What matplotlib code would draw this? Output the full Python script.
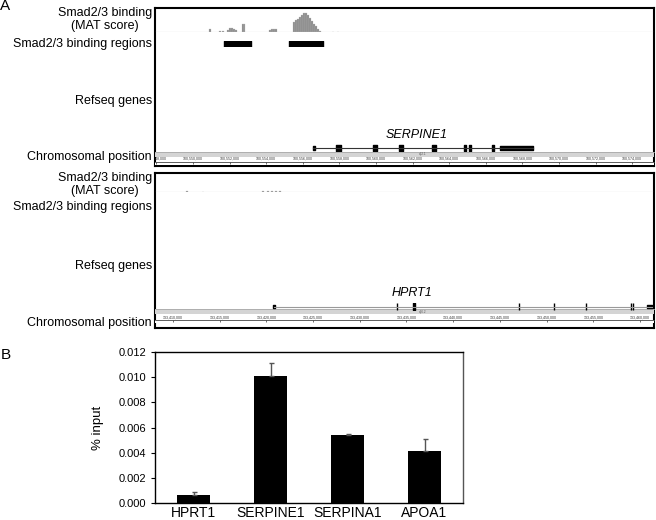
import matplotlib.pyplot as plt
from matplotlib.ticker import FuncFormatter

plt.rcParams['font.family'] = ['Liberation Sans', 'DejaVu Sans']

W, H = 656, 520

# ---- panel A, SERPINE1 locus ----
serpine_xlim = (100547923, 100575191)
serpine_mat_pos = [100550929, 100551475, 100551639, 100551912, 100552022, 100552131,
                   100552240, 100552350, 100552732, 100552820, 100554207, 100554317,
                   100554426, 100554535, 100555519, 100555628, 100555737, 100555846,
                   100555956, 100556065, 100556174, 100556284, 100556393, 100556502,
                   100556611, 100556721, 100556830, 100556939, 100557650, 100557923]
serpine_mat_score = [0.9, 0.3, 0.4, 0.6, 1.2, 1.1, 0.9, 0.6, 2.5, 2.5, 0.7, 1.0,
                     1.0, 0.8, 3.1, 3.6, 4.2, 4.7, 5.3, 5.9, 6.0, 5.2, 4.4, 3.5,
                     2.6, 1.8, 0.9, 0.3, 0.1, 0.15]
serpine_regions = [(100551694, 100552295), (100552350, 100553169), (100555245, 100557103)]
serpine_span = (100556560, 100568579)
serpine_cds = [(100557800, 100558070), (100559820, 100560070), (100561260, 100561480),
               (100563060, 100563280), (100564810, 100564920), (100565080, 100565190),
               (100566350, 100566440)]
serpine_utr = [(100556560, 100556670), (100566776, 100568579)]
serpine_ticks = list(range(100548000, 100576000, 2000))

# ---- panel A, HPRT1 locus ----
hprt_xlim = (133408073, 133461499)
hprt_mat_pos = [133411499, 133413212, 133419636, 133420172, 133420600, 133421028, 133421456]
hprt_mat_score = [0.25, 0.15, 0.2, 0.3, 0.4, 0.3, 0.2]
hprt_span = (133420814, 133461285)
hprt_cds = [(133433950, 133434020), (133435720, 133435880), (133447010, 133447080),
            (133450760, 133450830), (133454180, 133454250), (133459000, 133459070),
            (133459220, 133459290)]
hprt_utr = [(133420760, 133420870), (133460750, 133461285)]
hprt_ticks = list(range(133410000, 133465000, 5000))

# ---- panel B ----
genes = ['HPRT1', 'SERPINE1', 'SERPINA1', 'APOA1']
pct_input = [0.0006, 0.0101, 0.0054, 0.0041]
pct_err = [0.0003, 0.0010, 0.0001, 0.0010]

fig = plt.figure(figsize=(W / 100, H / 100), dpi=100)


def px_axes(x0, y0, x1, y1):
    return fig.add_axes([x0 / W, 1 - y1 / H, (x1 - x0) / W, (y1 - y0) / H])


def ftext(x, y, s, **kw):
    fig.text(x / W, 1 - y / H, s, **kw)


def draw_locus(top, bottom, xlim, mat_pos, mat_score, mat_w, mat_ymax, y_mat,
               regions, span, cds, utr, line_color, gene_name, gene_xy,
               y_gene, y_band, band_name, y_ruler, ticks):
    frame = px_axes(155, top, 654, bottom)
    frame.set_xticks([])
    frame.set_yticks([])
    for s in frame.spines.values():
        s.set_linewidth(1.5)

    # MAT score track
    ax = px_axes(155, top, 654, y_mat)
    ax.bar(mat_pos, mat_score, width=mat_w, color='#8a8a8a', align='center',
           edgecolor='#bdbdbd', linewidth=0.2)
    ax.axhline(0, color='#a8a8a8', lw=0.8)
    ax.set_xlim(xlim)
    ax.set_ylim(0, mat_ymax)
    ax.axis('off')

    # binding regions
    ax = px_axes(155, y_mat + 9, 654, y_mat + 15)
    ax.broken_barh([(a, b - a) for a, b in regions], (0, 1), color='black')
    ax.set_xlim(xlim)
    ax.set_ylim(0, 1)
    ax.axis('off')

    # chromosome band
    ax = px_axes(155, y_band, 654, y_band + 5)
    ax.set_facecolor('#d4d4d4')
    ax.set_xlim(xlim)
    ax.set_xticks([])
    ax.set_yticks([])
    for s in ax.spines.values():
        s.set_visible(False)
    ax.spines['top'].set_visible(True)
    ax.spines['top'].set_color('#a8a8a8')
    ax.spines['top'].set_linewidth(0.6)
    ax.text(0.536, 0.5, band_name, transform=ax.transAxes, fontsize=2.2,
            color='#555555', ha='center', va='center')

    # gene model
    ax = px_axes(155, y_gene - 4, 654, y_gene + 4)
    ax.plot(span, [0, 0], color=line_color, lw=0.8)
    ax.broken_barh([(a, b - a) for a, b in cds], (-0.8, 1.6), color='black')
    ax.broken_barh([(a, b - a) for a, b in utr], (-0.45, 0.9), color='black')
    ax.set_xlim(xlim)
    ax.set_ylim(-1, 1)
    ax.axis('off')
    ftext(gene_xy[0], gene_xy[1], gene_name, fontsize=9, style='italic',
          ha='center', va='center')

    # ruler
    ax = px_axes(155, y_ruler, 654, y_ruler + 3)
    ax.set_xlim(xlim)
    ax.set_yticks([])
    for s in ax.spines.values():
        s.set_visible(False)
    ax.spines['top'].set_visible(True)
    ax.spines['top'].set_linewidth(0.6)
    ax.spines['top'].set_linestyle((0, (2, 1)))
    ax.spines['top'].set_color('#444444')
    ax.xaxis.tick_top()
    ax.set_xticks(ticks)
    ax.xaxis.set_major_formatter(FuncFormatter(lambda v, p: f'{int(v):,}'))
    ax.tick_params(axis='x', direction='in', length=1.5, width=0.5, pad=0.6,
                   labelsize=2.6, colors='#333333')
    for t in ax.xaxis.get_major_ticks():
        t.label2.set_clip_box(frame.bbox)
        t.label2.set_clip_on(True)


# top locus
draw_locus(8, 166, serpine_xlim, serpine_mat_pos, serpine_mat_score, 80, 7.5, 32,
           serpine_regions, serpine_span, serpine_cds, serpine_utr, '#333333',
           'SERPINE1', (417, 135), 148, 152, 'q22.1', 161.5, serpine_ticks)
# bottom locus
draw_locus(173, 328, hprt_xlim, hprt_mat_pos, hprt_mat_score, 180, 19 / 3.2, 192,
           [], hprt_span, hprt_cds, hprt_utr, '#9a9a9a',
           'HPRT1', (411.5, 293), 306.5, 309, 'q26.2', 320, hprt_ticks)

# left-hand track labels
for y0 in (0, 165):
    ftext(152, 19.5 + y0, 'Smad2/3 binding\n(MAT score)', fontsize=9, ha='right',
          va='center', multialignment='center', linespacing=1.15)
ftext(152, 43.5, 'Smad2/3 binding regions', fontsize=9, ha='right', va='center')
ftext(152, 207, 'Smad2/3 binding regions', fontsize=9, ha='right', va='center')
ftext(152, 101, 'Refseq genes', fontsize=9, ha='right', va='center')
ftext(152, 266, 'Refseq genes', fontsize=9, ha='right', va='center')
ftext(152, 157, 'Chromosomal position', fontsize=9, ha='right', va='center')
ftext(152, 323, 'Chromosomal position', fontsize=9, ha='right', va='center')

ftext(0, 6, 'A', fontsize=11, ha='left', va='center')
ftext(1, 355, 'B', fontsize=11, ha='left', va='center')

# panel B bar chart
ax = px_axes(155, 352, 463, 503)
x = range(len(genes))
ax.bar(x, pct_input, width=0.42, color='black')
ax.errorbar(x, pct_input, yerr=[[0] * len(genes), pct_err], fmt='none',
            ecolor='#555555', elinewidth=1, capsize=1.8, capthick=1)
ax.set_xlim(-0.5, 3.5)
ax.set_ylim(0, 0.012)
ax.set_yticks([0.000, 0.002, 0.004, 0.006, 0.008, 0.010, 0.012])
ax.yaxis.set_major_formatter(FuncFormatter(lambda v, p: f'{v:.3f}'))
ax.set_xticks(list(x))
ax.set_xticklabels(genes, fontsize=10)
ax.tick_params(axis='x', length=0, pad=2)
ax.tick_params(axis='y', labelsize=8, length=3, width=0.8)
ax.set_ylabel('% input', fontsize=9.5, labelpad=10)
for s in ax.spines.values():
    s.set_linewidth(1)
ax.spines['right'].set_color('#555555')

fig.savefig('out.png', dpi=100)
